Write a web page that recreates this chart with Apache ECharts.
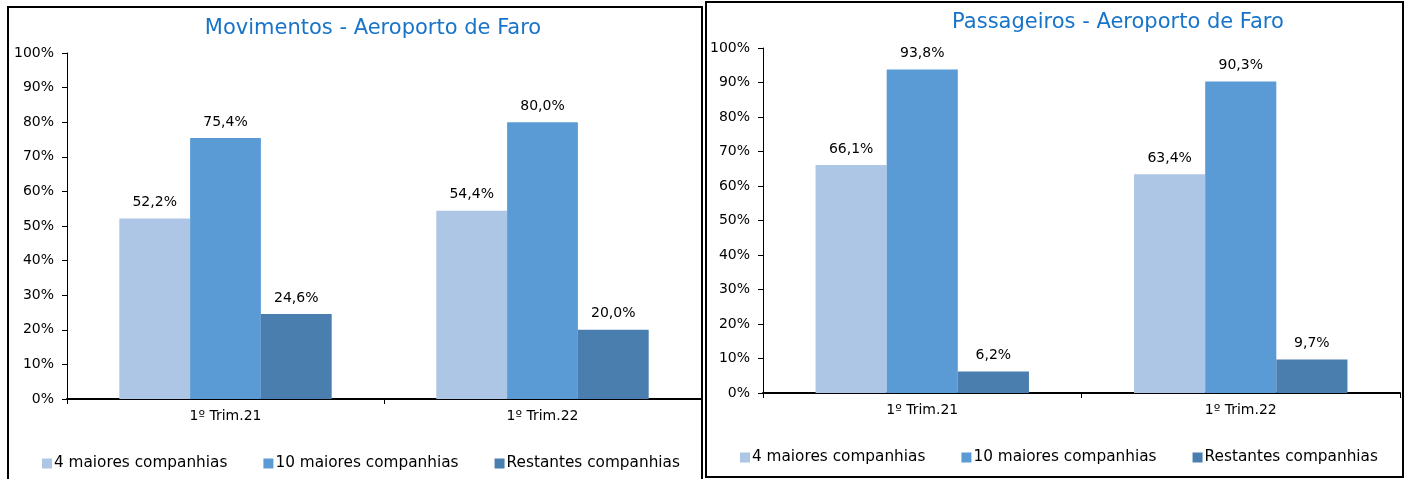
<!DOCTYPE html>
<html>
<head>
<meta charset="utf-8">
<script src="https://cdn.jsdelivr.net/npm/echarts@6/dist/echarts.min.js"></script>
<style>
html,body{margin:0;padding:0;background:#fff;}
#c{width:1407px;height:479px;}
</style>
</head>
<body>
<div id="c"></div>
<script>
const categories = ['1º Trim.21', '1º Trim.22'];
const seriesNames = ['4 maiores companhias', '10 maiores companhias', 'Restantes companhias'];
const titles = ['Movimentos - Aeroporto de Faro', 'Passageiros - Aeroporto de Faro'];
const yTicks = [0, 10, 20, 30, 40, 50, 60, 70, 80, 90, 100];

const movTop4 = [52.2, 54.4];
const movTop10 = [75.4, 80.0];
const movRest = [24.6, 20.0];

const pasTop4 = [66.1, 63.4];
const pasTop10 = [93.8, 90.3];
const pasRest = [6.2, 9.7];

const colors = ['#adc6e5', '#5b9bd5', '#4a7eaf'];
const FONT = 'DejaVu Sans';

const chart = echarts.init(document.getElementById('c'), null, {renderer: 'canvas'});

function fmt(v) { return v.toFixed(1).replace('.', ',') + '%'; }

const panels = [
  {data: [movTop4, movTop10, movRest], grid: {left: 67, right: 706, top: 53, bottom: 80}, title: {x: 368, y: 13}, legend: {left: 42, top: 456}},
  {data: [pasTop4, pasTop10, pasRest], grid: {left: 763, right: 7, top: 48, bottom: 86}, title: {x: 1113, y: 7}, legend: {left: 740, top: 450}}
];

const option = {
  animation: false,
  textStyle: {fontFamily: FONT},
  title: panels.map((p, i) => ({
    text: titles[i], left: p.title.x, top: p.title.y, textAlign: 'center',
    textStyle: {fontFamily: FONT, fontSize: 21, fontWeight: 'normal', color: '#1874c8'}
  })),
  legend: panels.map(p => ({
    data: seriesNames, left: p.legend.left, top: p.legend.top, icon: 'rect', padding: 0,
    itemWidth: 10, itemHeight: 10, itemGap: 36, selectedMode: false,
    textStyle: {fontFamily: FONT, fontSize: 15.3, color: '#000', padding: [0, 0, 0, -3]}
  })),
  grid: panels.map(p => Object.assign({containLabel: false}, p.grid)),
  xAxis: panels.map((p, i) => ({
    type: 'category', gridIndex: i, data: categories,
    axisLine: {lineStyle: {color: '#000', width: 2}},
    axisTick: {show: true, length: 5, lineStyle: {color: '#000'}},
    axisLabel: {fontFamily: FONT, fontSize: 14, color: '#000', margin: 10}
  })),
  yAxis: panels.map((p, i) => ({
    type: 'value', gridIndex: i, min: yTicks[0], max: yTicks[yTicks.length - 1], interval: 10,
    axisLine: {show: true, lineStyle: {color: '#000', width: 1}},
    axisTick: {show: true, length: 5, lineStyle: {color: '#000'}},
    splitLine: {show: false},
    axisLabel: {fontFamily: FONT, fontSize: 14, color: '#000', margin: 13, formatter: '{value}%'}
  })),
  series: [],
  graphic: [
    {type: 'rect', shape: {x: 8, y: 7, width: 694, height: 480}, style: {fill: 'none', stroke: '#000', lineWidth: 2}, z: 100},
    {type: 'rect', shape: {x: 706, y: 2, width: 697, height: 475}, style: {fill: 'none', stroke: '#000', lineWidth: 2}, z: 100}
  ]
};

panels.forEach((p, i) => {
  p.data.forEach((arr, k) => {
    option.series.push({
      name: seriesNames[k], type: 'bar', xAxisIndex: i, yAxisIndex: i,
      data: arr, barGap: '0%', barCategoryGap: '33%',
      itemStyle: {color: colors[k]},
      label: {show: true, position: 'top', distance: 9, fontFamily: FONT, fontSize: 14, color: '#000',
        formatter: params => fmt(params.value)}
    });
  });
});

chart.setOption(option);
</script>
</body>
</html>
